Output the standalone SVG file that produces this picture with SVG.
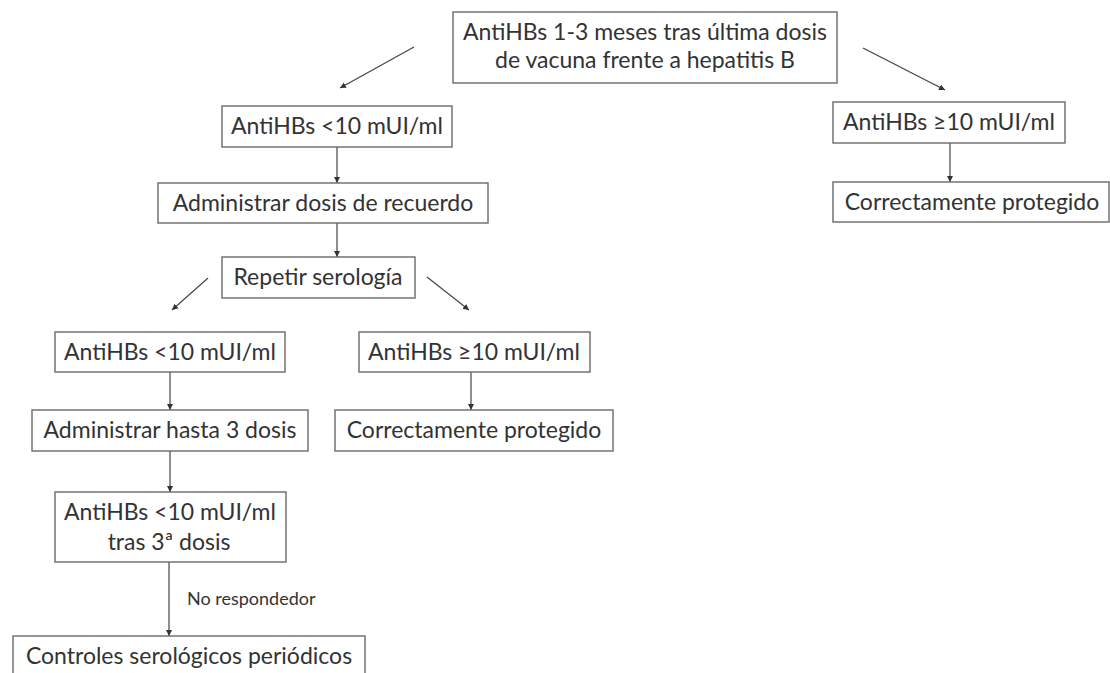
<svg xmlns="http://www.w3.org/2000/svg" width="1110" height="673" viewBox="0 0 1110 673">
<defs>
<marker id="ah" markerWidth="8" markerHeight="8" refX="6" refY="3.5" orient="auto" markerUnits="userSpaceOnUse">
<path d="M0,0.5 L6,3.5 L0,6.5 Z" fill="#333"/>
</marker>
<style>
.box{fill:#fff;stroke:#6a6a6a;stroke-width:1.4}
.t{font-family:Lato,"Liberation Sans",sans-serif;font-size:23px;fill:#333;text-anchor:middle}
.s{font-family:Lato,"Liberation Sans",sans-serif;font-size:18px;fill:#333}
.c{stroke:#444;stroke-width:1.2;fill:none;marker-end:url(#ah)}
</style>
</defs>
<rect width="1110" height="673" fill="#fff"/>
<g id="connectors">
<line class="c" x1="414" y1="47" x2="340" y2="88"/>
<line class="c" x1="863" y1="48" x2="945" y2="90"/>
<line class="c" x1="337" y1="147" x2="337" y2="183"/>
<line class="c" x1="337" y1="223" x2="337" y2="257"/>
<line class="c" x1="208" y1="278" x2="172" y2="310"/>
<line class="c" x1="427" y1="277" x2="469" y2="310"/>
<line class="c" x1="170" y1="372" x2="170" y2="410"/>
<line class="c" x1="471" y1="372" x2="471" y2="410"/>
<line class="c" x1="170" y1="451" x2="170" y2="492"/>
<line class="c" x1="169" y1="562" x2="169" y2="636"/>
<line class="c" x1="950" y1="143" x2="950" y2="182"/>
<text class="s" x="187" y="605">No respondedor</text>
</g>
<g id="n1"><rect class="box" x="453" y="12" width="384" height="71"/><text class="t" x="645" y="40">AntiHBs 1-3 meses tras última dosis</text><text class="t" x="645" y="68">de vacuna frente a hepatitis B</text></g>
<g id="n2"><rect class="box" x="222" y="106" width="230" height="41"/><text class="t" x="337" y="134">AntiHBs &lt;10 mUI/ml</text></g>
<g id="n3"><rect class="box" x="833" y="102" width="232" height="41"/><text class="t" x="949" y="130">AntiHBs ≥10 mUI/ml</text></g>
<g id="n4"><rect class="box" x="158" y="183" width="330" height="40"/><text class="t" x="323" y="211">Administrar dosis de recuerdo</text></g>
<g id="n5"><rect class="box" x="833" y="182" width="276" height="40"/><text class="t" x="972" y="210">Correctamente protegido</text></g>
<g id="n6"><rect class="box" x="222" y="257" width="193" height="41"/><text class="t" x="318" y="285">Repetir serología</text></g>
<g id="n7"><rect class="box" x="55" y="332" width="230" height="40"/><text class="t" x="170" y="360">AntiHBs &lt;10 mUI/ml</text></g>
<g id="n8"><rect class="box" x="359" y="332" width="231" height="40"/><text class="t" x="474" y="360">AntiHBs ≥10 mUI/ml</text></g>
<g id="n9"><rect class="box" x="32" y="410" width="276" height="41"/><text class="t" x="170" y="438">Administrar hasta 3 dosis</text></g>
<g id="n10"><rect class="box" x="335" y="410" width="278" height="41"/><text class="t" x="474" y="438">Correctamente protegido</text></g>
<g id="n11"><rect class="box" x="55" y="492" width="231" height="70"/><text class="t" x="170" y="520">AntiHBs &lt;10 mUI/ml</text><text class="t" x="169" y="550">tras 3ª dosis</text></g>
<g id="n12"><rect class="box" x="13" y="636" width="352" height="48"/><text class="t" x="189" y="664">Controles serológicos periódicos</text></g>
</svg>
